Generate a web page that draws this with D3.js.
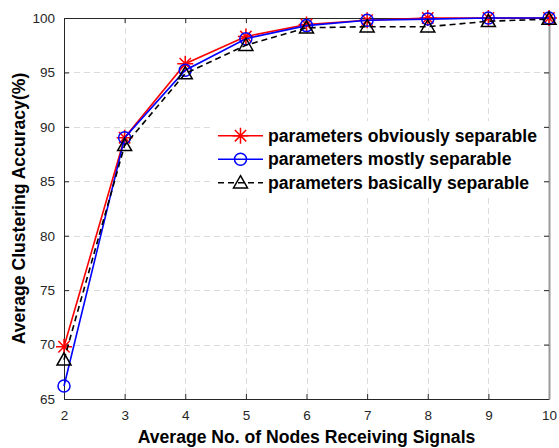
<!DOCTYPE html>
<html>
<head>
<meta charset="utf-8">
<script src="https://cdn.jsdelivr.net/npm/d3@7"></script>
<style>
  html, body { margin: 0; padding: 0; background: #fff; }
  svg { display: block; font-family: Arial, "Liberation Sans", sans-serif; }
</style>
</head>
<body>
<div id="chart"></div>
<script>
// Clustering accuracy vs. average number of receiving nodes
const nodes = [2, 3, 4, 5, 6, 7, 8, 9, 10];
const obviousAcc = [69.8, 89.0, 95.8, 98.3, 99.4, 99.8, 100.0, 100.0, 100.0];
const mostlyAcc  = [66.2, 89.0, 95.2, 98.1, 99.3, 99.8, 99.9, 100.0, 100.0];
const basicAcc   = [68.6, 88.3, 94.9, 97.5, 99.1, 99.2, 99.2, 99.7, 99.9];
const yTicks = [65, 70, 75, 80, 85, 90, 95, 100];
const seriesNames = [
  "parameters obviously separable",
  "parameters mostly separable",
  "parameters basically separable"
];

const width = 559, height = 448;
const margin = { left: 64, right: 10, top: 18, bottom: 49 };
const labelSize = 17.6;

const svg = d3.select("#chart")
  .append("svg")
  .attr("width", width)
  .attr("height", height);

const x = d3.scaleLinear()
  .domain([2, 10])
  .range([margin.left, width - margin.right]);
const y = d3.scaleLinear()
  .domain([65, 100])
  .range([height - margin.bottom, margin.top]);

const x0 = x.range()[0], x1 = x.range()[1];
const y0 = y.range()[0], y1 = y.range()[1];

// grid
const grid = svg.append("g")
  .attr("stroke", "#dcdcdc")
  .attr("stroke-width", 1)
  .attr("stroke-dasharray", "6,4");
grid.selectAll("line.gx")
  .data(nodes.slice(1, -1))
  .enter().append("line")
    .attr("x1", d => Math.round(x(d)) + 0.5)
    .attr("x2", d => Math.round(x(d)) + 0.5)
    .attr("y1", y1)
    .attr("y2", y0);
grid.selectAll("line.gy")
  .data(yTicks.slice(1, -1))
  .enter().append("line")
    .attr("x1", x0)
    .attr("x2", x1)
    .attr("y1", d => Math.round(y(d)) + 0.5)
    .attr("y2", d => Math.round(y(d)) + 0.5);

// axes box with inward ticks on all sides
const xAxis = svg.append("g")
  .attr("transform", `translate(0,${y0})`)
  .call(d3.axisBottom(x).tickValues(nodes).tickSizeInner(-5).tickSizeOuter(0).tickPadding(11).tickFormat(d3.format("d")));
const xTop = svg.append("g")
  .attr("transform", `translate(0,${y1})`)
  .call(d3.axisTop(x).tickValues(nodes).tickSizeInner(-5).tickSizeOuter(0).tickFormat(""));
const yAxis = svg.append("g")
  .attr("transform", `translate(${x0},0)`)
  .call(d3.axisLeft(y).tickValues(yTicks).tickSizeInner(-5).tickSizeOuter(0).tickPadding(9));
const yRight = svg.append("g")
  .attr("transform", `translate(${x1},0)`)
  .call(d3.axisRight(y).tickValues(yTicks).tickSizeInner(-5).tickSizeOuter(0).tickFormat(""));

[xAxis, xTop, yAxis, yRight].forEach(g => {
  g.selectAll("path.domain").attr("stroke", "#262626");
  g.selectAll(".tick line").attr("stroke", "#262626");
  g.selectAll("text")
    .attr("font-family", "Arial, 'Liberation Sans', sans-serif")
    .attr("font-size", 13.5)
    .attr("fill", "#262626");
});
yRight.select("path.domain").attr("stroke", "#9a9a9a").attr("stroke-width", 2);

// series
const series = [
  { name: seriesNames[0], values: obviousAcc, color: "#ff0000", dash: null, marker: "star" },
  { name: seriesNames[1], values: mostlyAcc, color: "#0000ff", dash: null, marker: "circle" },
  { name: seriesNames[2], values: basicAcc, color: "#000000", dash: "6,4", marker: "triangle" }
];

const line = d3.line()
  .x(d => x(d[0]))
  .y(d => y(d[1]));

function drawMarker(g, kind, color, cx, cy) {
  if (kind === "star") {
    const r = 8;
    const p = [];
    for (let k = 0; k < 4; k++) {
      const a = k * Math.PI / 4;
      p.push(`M${cx - r * Math.cos(a)},${cy - r * Math.sin(a)}L${cx + r * Math.cos(a)},${cy + r * Math.sin(a)}`);
    }
    g.append("path").attr("d", p.join("")).attr("stroke", color).attr("stroke-width", 1.5).attr("fill", "none");
  } else if (kind === "circle") {
    g.append("circle").attr("cx", cx).attr("cy", cy).attr("r", 6)
      .attr("stroke", color).attr("stroke-width", 1.5).attr("fill", "none");
  } else {
    const s = 7;
    g.append("path")
      .attr("d", `M${cx},${cy - s}L${cx + s},${cy + s * 0.75}L${cx - s},${cy + s * 0.75}Z`)
      .attr("stroke", color).attr("stroke-width", 1.5).attr("fill", "none");
  }
}

series.forEach(s => {
  const g = svg.append("g");
  const pts = nodes.map((n, i) => [n, s.values[i]]);
  g.append("path")
    .datum(pts)
    .attr("d", line)
    .attr("fill", "none")
    .attr("stroke", s.color)
    .attr("stroke-width", 1.6)
    .attr("stroke-dasharray", s.dash);
  pts.forEach(p => drawMarker(g, s.marker, s.color, x(p[0]), y(p[1])));
});

// legend
const legend = svg.append("g");
legend.append("rect")
  .attr("x", 213).attr("y", 121)
  .attr("width", 328).attr("height", 76)
  .attr("fill", "#fff");
series.forEach((s, i) => {
  const ly = 135.7 + i * 23.5;
  legend.append("line")
    .attr("x1", 218).attr("x2", 263)
    .attr("y1", ly).attr("y2", ly)
    .attr("stroke", s.color)
    .attr("stroke-width", 1.6)
    .attr("stroke-dasharray", s.dash);
  drawMarker(legend, s.marker, s.color, 240.5, ly);
  legend.append("text")
    .attr("x", 268).attr("y", ly)
    .attr("dy", "0.35em")
    .attr("font-size", labelSize)
    .attr("font-weight", "bold")
    .attr("fill", "#000")
    .text(s.name);
});

// axis titles
svg.append("text")
  .attr("x", (x0 + x1) / 2)
  .attr("y", 443)
  .attr("text-anchor", "middle")
  .attr("font-size", labelSize)
  .attr("font-weight", "bold")
  .text("Average No. of Nodes Receiving Signals");

svg.append("text")
  .attr("transform", `translate(25,${(y0 + y1) / 2}) rotate(-90)`)
  .attr("text-anchor", "middle")
  .attr("font-size", labelSize)
  .attr("font-weight", "bold")
  .text("Average Clustering Accuracy(%)");
</script>
</body>
</html>
